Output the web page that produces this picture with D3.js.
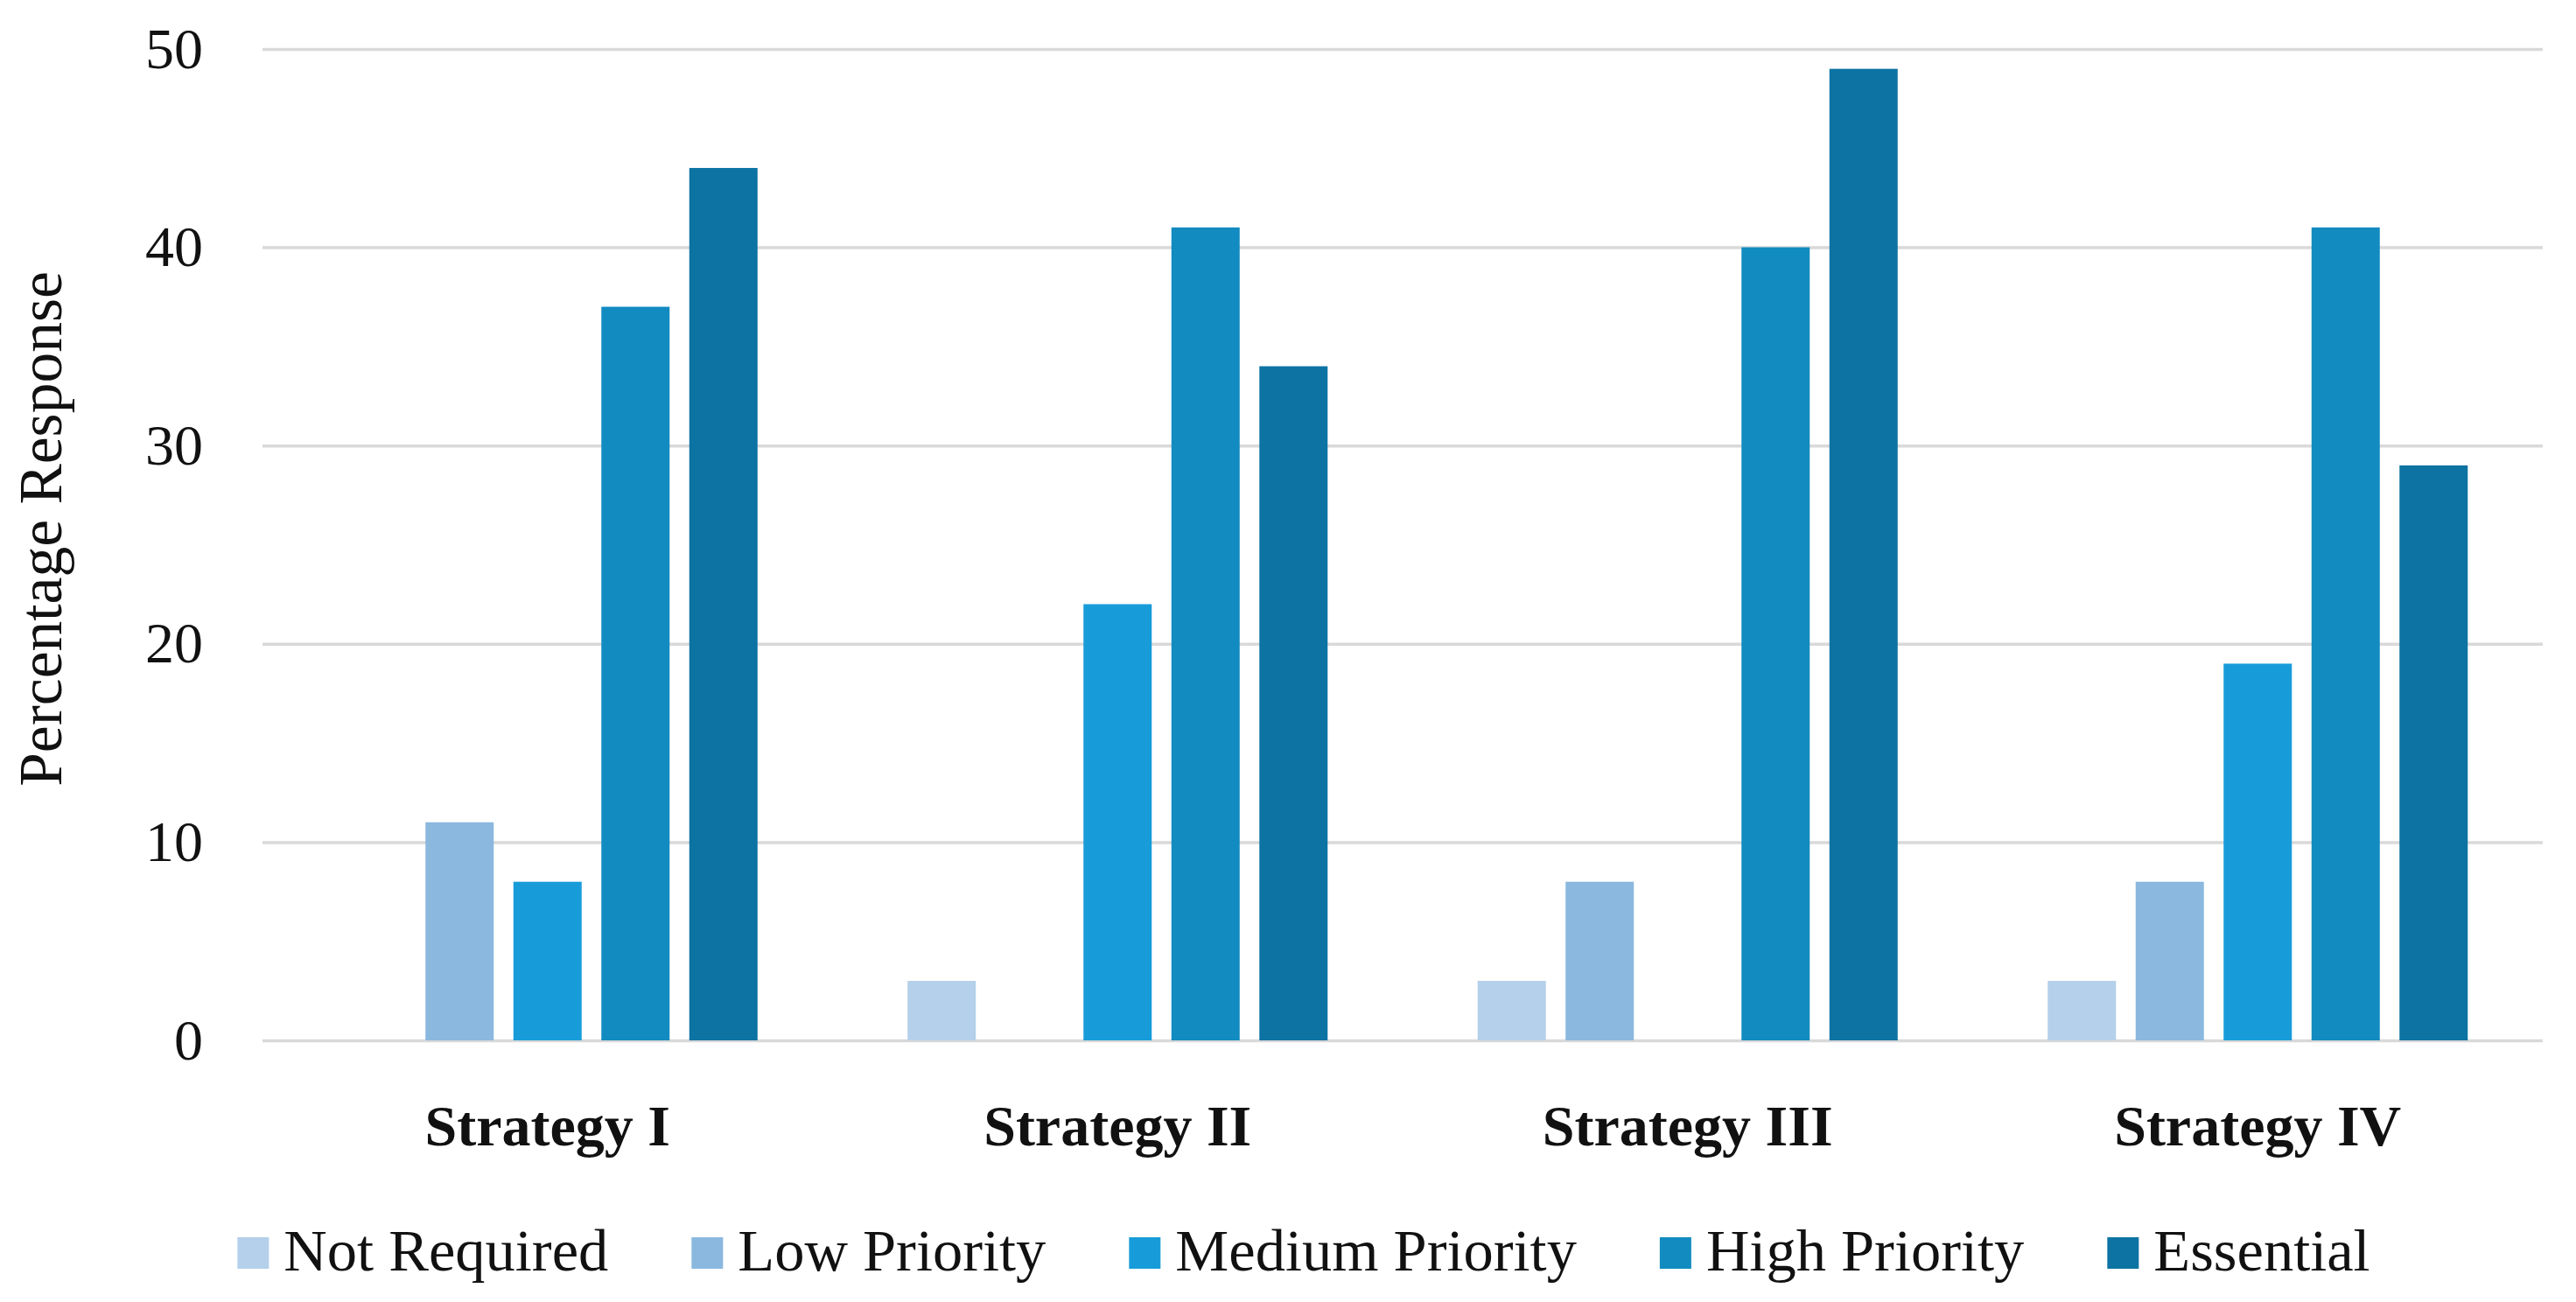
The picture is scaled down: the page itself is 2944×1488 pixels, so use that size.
<!DOCTYPE html>
<html>
<head>
<meta charset="utf-8">
<script src="https://d3js.org/d3.v7.min.js"></script>
<style>
body { margin: 0; background: #fff; }
text { font-family: "Palatino Linotype", "Book Antiqua", Palatino, "Liberation Serif", serif; fill: #111; }
.grid line { stroke: #d9d9d9; stroke-width: 3.5; }
.grid path { display: none; }
</style>
</head>
<body>
<svg width="2944" height="1488"></svg>
<script>

// data
var categories = ["Strategy I", "Strategy II", "Strategy III", "Strategy IV"];
var seriesNames = ["Not Required", "Low Priority", "Medium Priority", "High Priority", "Essential"];
var notRequired = [0, 3, 3, 3];
var lowPriority = [11, 0, 8, 8];
var mediumPriority = [8, 22, 0, 19];
var highPriority = [37, 41, 40, 41];
var essential = [44, 34, 49, 29];
var yTicks = [0, 10, 20, 30, 40, 50];

var seriesValues = [notRequired, lowPriority, mediumPriority, highPriority, essential];
var colors = ["#b4d0ea", "#8ab8df", "#189cd9", "#128bc0", "#0c73a3"];

var svg = d3.select("svg"),
    margin = {top: 56, right: 38, bottom: 299, left: 300},
    width = +svg.attr("width") - margin.left - margin.right,
    height = +svg.attr("height") - margin.top - margin.bottom;

var x0 = d3.scaleBand().domain(categories).range([0, width]),
    x1 = d3.scaleBand().domain(seriesNames).range([0, x0.bandwidth()])
      .paddingInner(0.224).paddingOuter(0.853),
    y = d3.scaleLinear().domain([0, 50]).range([height, 0]);

var g = svg.append("g")
    .attr("transform", "translate(" + margin.left + "," + margin.top + ")");

// gridlines + tick labels
g.append("g")
    .attr("class", "grid")
    .call(d3.axisLeft(y).tickValues(yTicks).tickSize(-width).tickPadding(68))
  .selectAll("text")
    .style("font-size", "66px")
    .attr("fill", "#111");

// bars
seriesNames.forEach(function(name, si) {
  g.append("g")
    .selectAll("rect")
    .data(seriesValues[si])
    .enter().append("rect")
      .attr("x", function(d, i) { return x0(categories[i]) + x1(name); })
      .attr("y", function(d) { return y(d); })
      .attr("width", x1.bandwidth())
      .attr("height", function(d) { return height - y(d); })
      .attr("fill", colors[si]);
});

// category labels
g.selectAll(".cat")
  .data(categories)
  .enter().append("text")
    .attr("class", "cat")
    .attr("x", function(d) { return x0(d) + x0.bandwidth() / 2; })
    .attr("y", height + 120)
    .attr("text-anchor", "middle")
    .style("font-size", "66px")
    .style("font-weight", "bold")
    .text(function(d) { return d; });

// y title
svg.append("text")
    .attr("transform", "translate(70," + (margin.top + height / 2 - 18) + ") rotate(-90)")
    .attr("text-anchor", "middle")
    .style("font-size", "69.5px")
    .text("Percentage Response");

// legend, laid out from text widths then centred
var legend = svg.append("g");
var pos = 0;
seriesNames.forEach(function(name, i) {
  var item = legend.append("g").attr("transform", "translate(" + pos + ",0)");
  item.append("rect")
      .attr("x", 0).attr("y", -38)
      .attr("width", 36).attr("height", 36)
      .attr("fill", colors[i]);
  var t = item.append("text")
      .attr("x", 53).attr("y", 0)
      .style("font-size", "68.5px")
      .text(name);
  pos += 53 + t.node().getComputedTextLength() + 95;
});
var legendWidth = pos - 95;
legend.attr("transform", "translate(" + (1490 - legendWidth / 2) + ",1452)");

</script>
</body>
</html>
